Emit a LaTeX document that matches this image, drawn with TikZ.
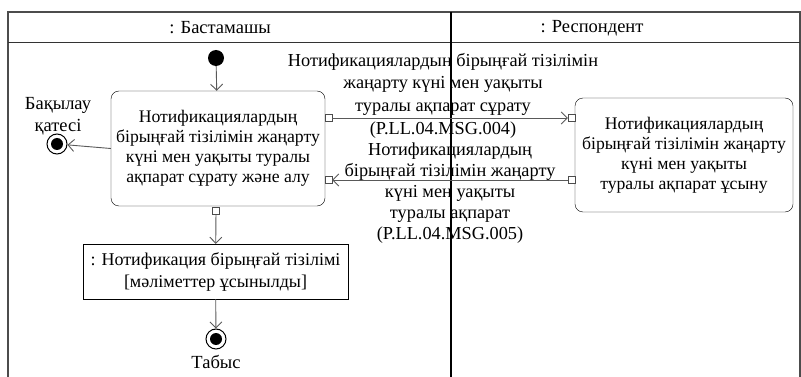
\documentclass[tikz,border=0pt]{standalone}
\usepackage{fontspec}
\setmainfont{Liberation Serif}
\usetikzlibrary{arrows.meta}

\begin{document}
\begin{tikzpicture}
	[x=1pt,y=-1pt,
	 action/.style={draw,rounded corners=8pt,align=center,inner sep=0pt,
	   font=\fontsize{17.7}{20}\selectfont},
	 object/.style={draw,align=center,inner sep=0pt,font=\fontsize{18}{22}\selectfont},
	 pin/.style={draw=black!70,fill=white,minimum size=7pt,inner sep=0pt},
	 flow/.style={draw=black!65,line width=0.9pt,-{Straight Barb[length=6pt,width=12pt]}},
	 msg/.style={align=center,font=\fontsize{18.3}{22.7}\selectfont},
	 lbl/.style={align=center,font=\fontsize{18.5}{22}\selectfont}]
\useasboundingbox (0,0) rectangle (801,377);
% swimlanes
\draw[black!70,line width=1.5pt] (8,377) -- (8,12) -- (800,12) -- (800,377);
\draw[black!80,line width=1pt] (8,43) -- (800,43);
\draw[black,line width=1.5pt] (451,12) -- (451,377);
\node[lbl] (laneA) at (220,28) {: Бастамашы};
\node[lbl] (laneB) at (592,28) {: Респондент};
% actions
\node[action,minimum width=214pt,minimum height=115pt] (req) at (218,148.5)
  {Нотификациялардың\\бірыңғай тізілімін жаңарту\\күні мен уақыты туралы\\ақпарат сұрату және алу};
\node[action,minimum width=218pt,minimum height=114pt] (resp) at (684,155)
  {Нотификациялардың\\бірыңғай тізілімін жаңарту\\күні мен уақыты\\туралы ақпарат ұсыну};
\node[object,minimum width=265pt,minimum height=55pt] (data) at (215.5,271.5)
  {: Нотификация бірыңғай тізілімі\\{}[мәліметтер ұсынылды]};
% start / end
\node[circle,fill=black,minimum size=16pt,inner sep=0pt] (start) at (216,58) {};
\node[circle,draw,line width=1pt,minimum size=20pt,inner sep=0pt] (fail) at (57,144) {};
\node[circle,fill=black,minimum size=12pt,inner sep=0pt] at (fail) {};
\node[circle,draw,line width=1pt,minimum size=20pt,inner sep=0pt] (ok) at (216,339) {};
\node[circle,fill=black,minimum size=12pt,inner sep=0pt] at (ok) {};
\node[lbl] (failtxt) at (58,116) {Бақылау\\қатесі};
\node[lbl] (oktxt) at (216,362) {Табыс};
% pins
\node[pin] (reqout) at (328.5,118) {};
\node[pin] (reqin) at (328.5,180) {};
\node[pin] (respin) at (571.5,118) {};
\node[pin] (respout) at (571.5,180) {};
\node[pin] (dataout) at (216,211) {};
% flows
\draw[flow] (start) -- (req);
\draw[flow] (req.west) -- (fail);
\draw[flow] (dataout) -- (data);
\draw[flow] (data) -- (ok);
\draw[flow] (reqout) -- (respin);
\draw[flow] (respout) -- (reqin);
% message labels
\node[msg] (m1) at (443,95.5)
  {Нотификациялардың бірыңғай тізілімін\\жаңарту күні мен уақыты\\туралы ақпарат сұрату\\(P.LL.04.MSG.004)};
\node[msg,font=\fontsize{18.3}{21}\selectfont] (m2) at (450,193)
  {Нотификациялардың\\бірыңғай тізілімін жаңарту\\күні мен уақыты\\туралы ақпарат\\(P.LL.04.MSG.005)};
\end{tikzpicture}
\end{document}
